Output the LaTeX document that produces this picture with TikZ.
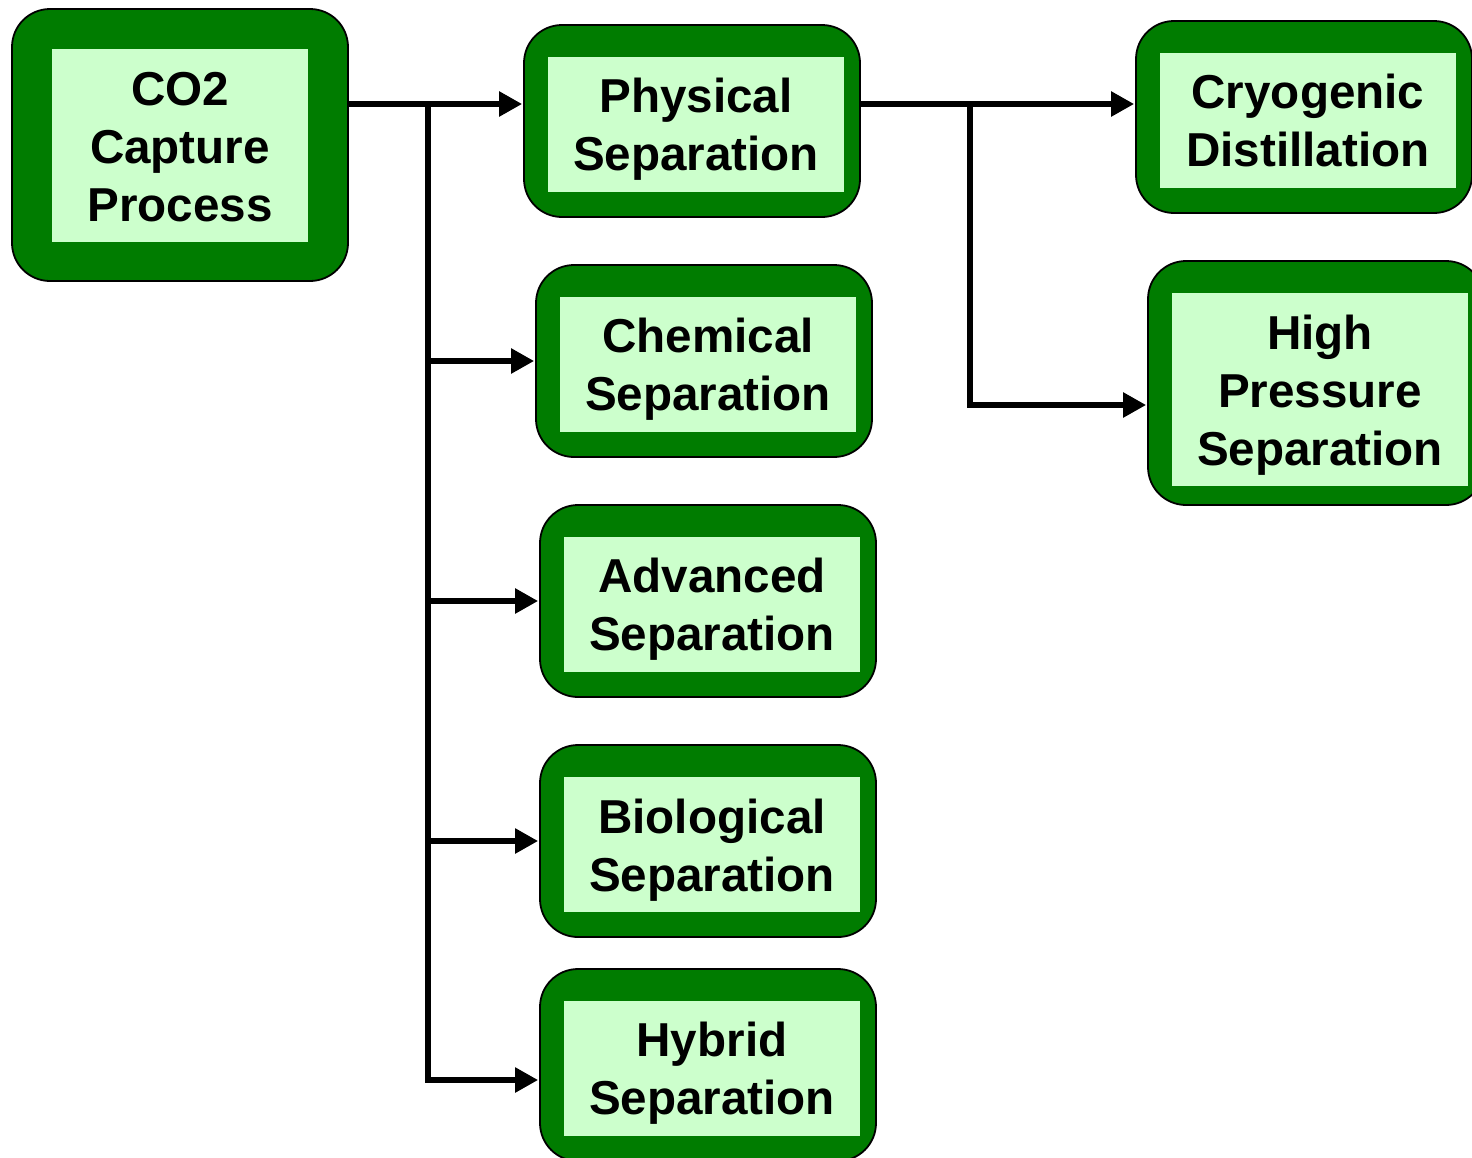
\documentclass[tikz,border=0pt]{standalone}
\usepackage{fontspec}
\setmainfont{Liberation Sans}
\usetikzlibrary{arrows.meta}
\definecolor{dkgreen}{RGB}{0,124,0}
\definecolor{ltgreen}{RGB}{204,255,204}
\tikzset{
  outerbox/.style={draw=black, line width=1.8pt, fill=dkgreen, rounded corners=38pt, minimum width=336pt, minimum height=192pt, inner sep=0pt},
  innerbox/.style={fill=ltgreen, inner sep=0pt, minimum width=296pt, minimum height=135pt},
  txt/.style={inner sep=0pt, align=center, font=\fontsize{47.6}{58}\selectfont\bfseries},
  conn/.style={line width=5.5pt, draw=black},
  arr/.style={conn, -{Triangle[length=23pt,width=24pt]}, shorten >=1pt}
}
\begin{document}
\begin{tikzpicture}[x=1pt,y=-1pt]
\useasboundingbox (0,0) rectangle (1472,1157);
% boxes
\node[outerbox, minimum height=272pt] (co2) at (180,145) {};
\node[innerbox, minimum width=256pt, minimum height=193pt] (co2in) at (180,145.5) {};
\node[txt] (co2t) at ([yshift=-2pt]co2in.center) {CO2\\Capture\\Process};
\node[outerbox] (phys) at (692,121) {};
\node[innerbox] (physin) at (696,124.5) {};
\node[txt] (physt) at ([yshift=-5pt]physin.center) {Physical\\Separation};
\node[outerbox] (chem) at (704,361) {};
\node[innerbox] (chemin) at (708,364.5) {};
\node[txt] (chemt) at ([yshift=-5pt]chemin.center) {Chemical\\Separation};
\node[outerbox] (adv) at (708,601) {};
\node[innerbox] (advin) at (712,604.5) {};
\node[txt] (advt) at ([yshift=-5pt]advin.center) {Advanced\\Separation};
\node[outerbox] (bio) at (708,841) {};
\node[innerbox] (bioin) at (712,844.5) {};
\node[txt] (biot) at ([yshift=-5.5pt]bioin.center) {Biological\\Separation};
\node[outerbox] (hyb) at (708,1065) {};
\node[innerbox] (hybin) at (712,1068.5) {};
\node[txt] (hybt) at ([yshift=-5pt]hybin.center) {Hybrid\\Separation};
\node[outerbox] (cryo) at (1304,117) {};
\node[innerbox] (cryoin) at (1308,120.5) {};
\node[txt] (cryot) at (cryoin.center) {Cryogenic\\Distillation};
\node[outerbox, minimum height=244pt] (hp) at (1316,383) {};
\node[innerbox, minimum height=193pt] (hpin) at (1320,389.5) {};
\node[txt] (hpt) at ([yshift=-5.5pt]hpin.center) {High\\Pressure\\Separation};
% junctions
\coordinate (j1) at (428,104);
\coordinate (j2) at (970,104);
\coordinate (b5) at (428,1080);
\coordinate (b6) at (970,405);
% connectors
\draw[arr] (co2.east |- j1) -- (phys.west |- j1);
\draw[conn] (j1) -- (b5);
\draw[arr] (j1 |- chem.west) -- (chem.west);
\draw[arr] (j1 |- adv.west) -- (adv.west);
\draw[arr] (j1 |- bio.west) -- (bio.west);
\draw[arr] ([xshift=-2.75pt]b5) -- (hyb.west |- b5);
\draw[arr] (phys.east |- j2) -- (cryo.west |- j2);
\draw[arr] (j2) -- (b6) -- (hp.west |- b6);
\end{tikzpicture}
\end{document}
